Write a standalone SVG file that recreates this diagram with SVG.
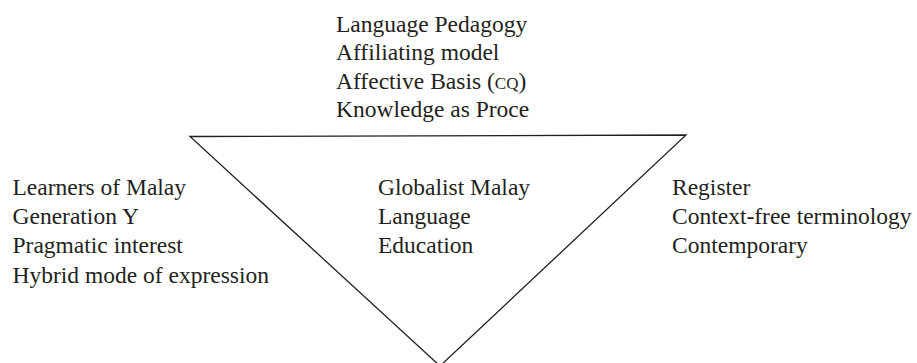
<svg xmlns="http://www.w3.org/2000/svg" width="917" height="363" viewBox="0 0 917 363">
<style>
text{font-family:"Liberation Serif","Times New Roman",serif;font-size:23.5px;fill:#231f20}
.sc{font-size:17px}
.edge{fill:none;stroke:#231f20;stroke-width:1.3}
</style>
<rect width="917" height="363" fill="#fff"/>
<g id="connectors">
<polygon class="edge" points="190,136.5 686,135 440,366"/>
</g>
<g id="top">
<text x="336" y="31.5">Language Pedagogy</text>
<text x="336" y="60">Affiliating model</text>
<text x="336" y="88.5">Affective Basis (<tspan class="sc">CQ</tspan>)</text>
<text x="336" y="117">Knowledge as Proce</text>
</g>
<g id="left">
<text x="12.5" y="195">Learners of Malay</text>
<text x="12.5" y="224">Generation Y</text>
<text x="12.5" y="253">Pragmatic interest</text>
<text x="12.5" y="283">Hybrid mode of expression</text>
</g>
<g id="center">
<text x="378" y="195">Globalist Malay</text>
<text x="378" y="224">Language</text>
<text x="378" y="253">Education</text>
</g>
<g id="right">
<text x="672" y="195">Register</text>
<text x="672" y="224">Context-free terminology</text>
<text x="672" y="253">Contemporary</text>
</g>
</svg>
